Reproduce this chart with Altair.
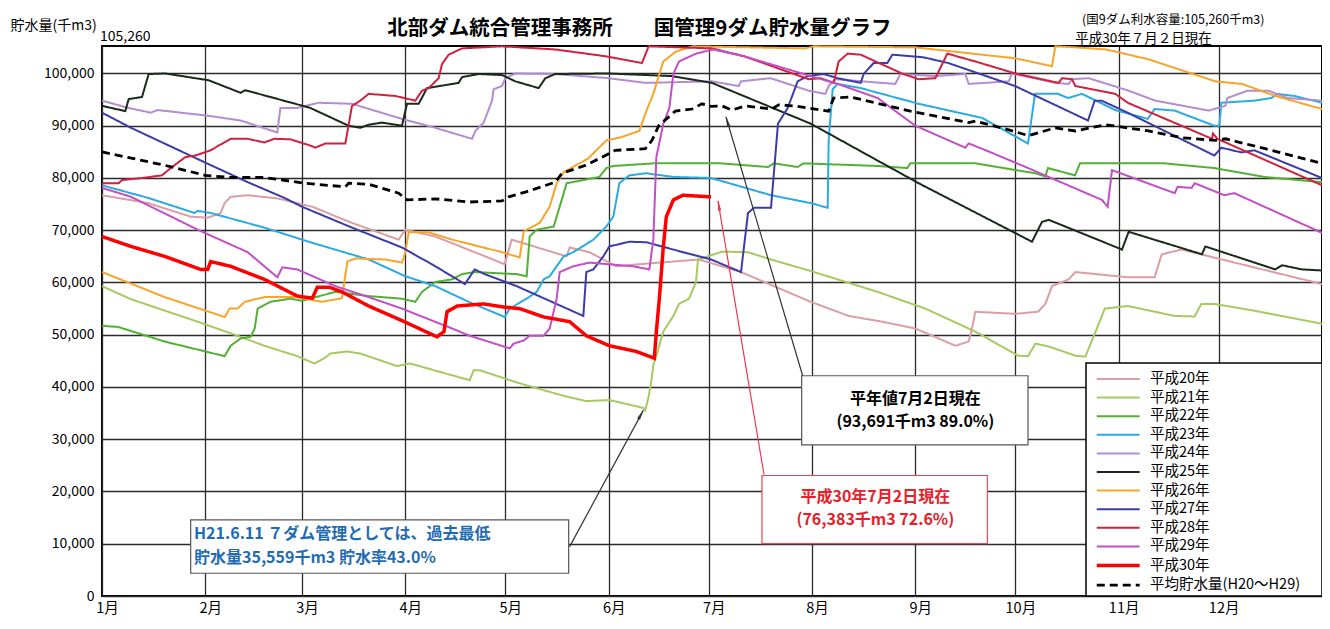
import altair as alt
import pandas as pd

FONT = "Noto Sans CJK JP"

SERIES_NAMES = ["平成20年", "平成21年", "平成22年", "平成23年", "平成24年", "平成25年",
                "平成26年", "平成27年", "平成28年", "平成29年", "平成30年", "平均貯水量(H20～H29)"]
SERIES_COLORS = ["#DB9EA6", "#A8C860", "#52B135", "#29ABE2", "#B48CD0", "#1A2A1A",
                 "#F7A52A", "#3C3CA8", "#D0213F", "#C24FC6", "#FF0000", "#000000"]
SERIES_WIDTHS = [2, 2, 2, 2, 2, 2, 2, 2, 2, 2, 3.5, 2.8]
SERIES_DASHES = [[1, 0]] * 11 + [[8, 5]]

MONTH_LABELS = ["1月", "2月", "3月", "4月", "5月", "6月", "7月", "8月", "9月", "10月", "11月", "12月"]
MONTH_START_DAYS = [0, 31, 60, 91, 121, 152, 182, 213, 244, 274, 305, 335]
DAYS_IN_YEAR = 366
Y_TICKS = [0, 10000, 20000, 30000, 40000, 50000, 60000, 70000, 80000, 90000, 100000]
Y_MAX = 105260

# ---- series (day of year, storage in 千m3) ----
h20_day = [0, 13.8, 26.6, 31.7, 35.6, 36.8, 38.6, 43.7, 52.6, 63.1, 75, 89, 91, 100, 120.8, 122.9, 139.4, 140.3,
           146.2, 154.3, 161.2, 179.1, 191.7, 212.6, 224, 234, 244, 256, 260, 261, 262, 274, 280.8, 283, 285, 290,
           292, 307.7, 315.8, 317.9, 323.9, 366]
h20_val = [76700, 75200, 72600, 72400, 73300, 75200, 76400, 76700, 76100, 74500, 71400, 68200, 70100, 68800, 63500,
           68200, 65000, 66700, 65800, 63100, 63500, 64400, 62000, 56300, 53600, 52500, 51200, 47900, 48700, 51200,
           54400, 54000, 54400, 55900, 59300, 60600, 62000, 61000, 61000, 65400, 66300, 59700]

h21_day = [0, 8.7, 28.7, 40.7, 48.7, 58.6, 63.7, 66.7, 68.5, 73.6, 77.5, 88.5, 92.4, 110.3, 111.5, 113.3, 125.3,
           138.5, 145.3, 152.2, 162.4, 163, 163.9, 164.8, 165.4, 166.3, 168.4, 171.4, 173.1, 176.1, 178.2, 178.8,
           186, 193.8, 200.7, 212.6, 232.7, 247, 262, 274.8, 277.8, 280, 283.8, 292, 295, 300, 300.8, 307.7, 321.8,
           327.8, 329.8, 333.7, 345.7, 366]
h21_val = [59300, 56800, 52500, 49800, 47900, 45900, 44500, 45500, 46400, 46800, 46400, 44000, 44500, 41300, 43200,
           43200, 40700, 38300, 37300, 37500, 36000, 35559, 37900, 41100, 44200, 46000, 50600, 53600, 55900, 56900,
           60100, 64400, 65900, 65800, 64400, 62200, 58200, 55000, 50600, 46000, 45900, 48300, 47800, 46000, 45800,
           53600, 55000, 55500, 53600, 53500, 55900, 55900, 54600, 52100]

h22_day = [0, 4.8, 18.8, 36.8, 38.6, 41.6, 44.6, 45.8, 46.7, 50.5, 56.5, 60, 70, 80, 90, 94, 96, 100, 105, 108,
           111.8, 124.4, 127.4, 128.3, 130.4, 135.5, 137.3, 139.4, 144.4, 149.2, 151.3, 153.4, 165.4, 185.7, 199.8,
           201.6, 208.7, 210.5, 232.7, 241.6, 242.5, 262, 280, 283, 283.8, 291.9, 293.4, 318.8, 333.7, 348.7, 366]
h22_val = [51700, 51500, 48700, 45900, 47900, 49300, 49600, 51200, 55000, 56300, 56900, 56500, 58200, 57400, 56900,
           56300, 58200, 60100, 60600, 61600, 62000, 61600, 61200, 68800, 70100, 70700, 74500, 79000, 79600, 80200,
           81900, 82300, 82800, 82800, 82100, 82800, 82100, 82800, 82300, 81900, 82800, 82800, 80900, 80300, 81900,
           80500, 82800, 82800, 81900, 80200, 79200]

h23_day = [0, 13.8, 27.8, 28.7, 32.6, 48.7, 62.5, 80, 91, 100, 110, 120.8, 122.3, 127.4, 130.4, 132.5, 134.3,
           138.5, 141.4, 147.4, 151.3, 153.4, 155.2, 158.2, 163.3, 171.4, 182.7, 200.7, 212.6, 217.7, 218, 219.2,
           220.7, 227.6, 245, 264, 277.8, 279.9, 286.8, 289.8, 294, 304, 313.7, 315.8, 321.8, 333.7, 335.2, 335.8,
           345.7, 350.8, 352.6, 357.7, 366]
h23_val = [78600, 76200, 73300, 73700, 73300, 70500, 67700, 64400, 61200, 59300, 56300, 53400, 55000, 56900, 58200,
           60600, 61200, 65000, 65800, 68200, 70700, 72600, 79000, 80500, 80900, 80200, 80000, 76700, 75200, 74300,
           87200, 97000, 98000, 97200, 94200, 91500, 86600, 96100, 96100, 95300, 96100, 93000, 91300, 93200, 92900,
           90000, 90000, 94400, 94800, 95300, 96100, 95700, 94400]

h24_day = [0, 8, 14.6, 16.7, 32, 41.6, 52.6, 53.5, 58.6, 65, 75, 90, 100, 111, 112, 114.5, 117, 117.5, 120, 121,
           124, 136, 152, 163, 183, 191, 191.7, 200.6, 212, 217, 218, 220, 238, 239.5, 250, 259, 260, 272, 273, 286,
           290, 291, 296, 308, 316, 332, 337, 337.6, 343.6, 350, 355.6, 366]
h24_val = [94800, 93400, 92500, 93000, 91900, 91000, 88700, 93400, 93400, 94400, 94200, 91300, 89600, 87500, 89000,
           90600, 94800, 97000, 97600, 99100, 100000, 99900, 99100, 98200, 98500, 97600, 98500, 99100, 96700, 96100,
           97600, 98900, 98000, 99900, 99500, 99900, 98000, 98500, 100000, 98200, 98000, 98900, 99100, 96700, 94800,
           92900, 93800, 95300, 96700, 96700, 95300, 94800]

h25_day = [0, 7, 8, 12, 14, 19, 32, 41.6, 43, 58, 62.5, 74, 77.5, 80, 84, 90, 91.5, 95, 97.5, 107, 108, 113, 120,
           124, 131, 133, 136, 152, 171, 183, 212.6, 245, 279, 282, 284, 306, 308, 330, 331, 352, 354, 360, 366]
h25_val = [93800, 92800, 95100, 95500, 99900, 100000, 98700, 96300, 96800, 94200, 93400, 90000, 89600, 90200, 90600,
           90000, 94200, 94200, 97200, 98200, 99300, 99900, 99700, 98500, 97200, 99100, 99900, 100000, 99500, 98200,
           90400, 79000, 67800, 71600, 72000, 66300, 69700, 65400, 66900, 62500, 63300, 62500, 62300]

h26_day = [0, 18.8, 36.8, 38.3, 40.7, 42.8, 48.7, 58.6, 66, 72, 73.6, 76, 85, 90, 91, 92, 98, 105, 120, 125.3, 126.5,
           127.4, 131.3, 134.3, 136.4, 138.5, 146, 148.3, 151.3, 155.2, 161.2, 163.3, 165.4, 167.2, 168.4, 172.2,
           177.3, 211, 213.5, 244, 274, 285, 286, 292, 301, 304, 314, 334, 342, 352, 366]
h26_val = [62000, 57200, 53400, 55000, 55000, 56300, 57200, 57200, 56300, 57000, 64000, 64600, 64400, 63800, 65800,
           69600, 69600, 68200, 65800, 64800, 69700, 70100, 71400, 74500, 79000, 81100, 83800, 85300, 87200, 87700,
           89000, 92800, 96100, 99900, 102300, 104200, 105200, 104800, 105200, 105000, 102900, 101400, 105200,
           105000, 104600, 104200, 102700, 98500, 98000, 95700, 93200]

h27_day = [0, 8.7, 30.8, 43.7, 54.7, 60, 75, 90, 100, 108.9, 111.8, 114.8, 124.4, 144.4, 145.3, 147.4, 150.4, 152.2,
           158.2, 163.3, 171.4, 182.7, 191.7, 193.8, 195.6, 200.7, 202.8, 205.7, 208.7, 211.7, 216.5, 220.7, 227.6,
           228.5, 231.5, 235.6, 237.1, 246.4, 253.9, 273.9, 295.8, 297.8, 299.9, 307.7, 333.7, 335.8, 341.8, 345.7, 366]
h27_val = [92500, 89600, 83000, 79200, 76200, 74500, 70500, 66700, 63100, 59700, 62500, 61600, 59300, 53600, 62000,
           62500, 65000, 66900, 67800, 67700, 66300, 64400, 62000, 73300, 74300, 74300, 90400, 93400, 98500, 99500,
           99900, 99100, 98200, 99900, 102000, 102000, 103600, 103100, 102000, 97600, 91000, 94800, 94800, 92500,
           84300, 85800, 84900, 85300, 80000]

h28_day = [0, 5, 6, 12, 18, 20.6, 25, 28, 32.6, 35, 38.6, 43.7, 48.7, 51.7, 56.5, 62.5, 64, 67, 73, 75, 77.5, 80,
           88, 94, 96, 98, 101, 102, 104, 108, 120, 136, 151, 162, 164, 183, 192.6, 212, 215.6, 219.5, 221, 223.7,
           227.6, 240, 245, 250, 253.6, 262, 274, 287, 288, 291, 292, 304, 307.7, 333, 333.3, 334.6, 366]
h28_val = [79000, 79000, 79600, 80000, 80500, 81900, 84000, 84300, 85300, 86200, 87500, 87500, 86800, 87500, 87400,
           86200, 85800, 86600, 86600, 93800, 94800, 96100, 95700, 94800, 96700, 97200, 99100, 101800, 103600,
           104800, 105200, 104600, 103300, 102000, 105200, 104800, 103300, 98900, 99100, 98200, 102300, 103800,
           103600, 100000, 98900, 99100, 103800, 102300, 100000, 98200, 99100, 98900, 97600, 96100, 94400, 87500,
           88500, 87500, 78600]

h29_day = [0, 8.7, 28.7, 43.7, 52.6, 54.1, 58.6, 70, 80, 90, 105, 110.3, 122.3, 123.5, 126.5, 128.3, 132.5, 134.3,
           136.4, 137.3, 141.4, 146.2, 159.4, 164.2, 165.4, 166.3, 168.4, 170.2, 171.4, 173.1, 178.2, 183.3, 192.6,
           212.6, 220.7, 232.7, 244, 259, 260, 264, 276, 300, 301.7, 303, 321.8, 322.7, 326.9, 327.8, 336.7, 339.7, 366]
h29_val = [78100, 76400, 70100, 65800, 61000, 62900, 62500, 59300, 57200, 55000, 51200, 49800, 47400, 48300, 48900,
           49800, 49800, 51200, 56900, 62000, 63100, 63800, 63100, 62500, 68200, 84000, 90400, 93400, 99900, 102300,
           103800, 104600, 103300, 99500, 98000, 95300, 90000, 85800, 86600, 85600, 82400, 75800, 74500, 81500,
           77100, 78300, 78100, 79000, 76700, 77100, 69500]

h30_day = [0, 8.7, 18.8, 29.6, 31.7, 32.6, 38.6, 48.7, 58.6, 63.1, 64.6, 68.2, 72, 80, 90, 100.5, 102.6, 103.5,
           106.5, 114.5, 120.5, 125.3, 132.5, 140.3, 145.3, 152.2, 160.3, 165.7, 166.3, 167.2, 168.4, 169.3, 171.4,
           174.3, 182.7]
h30_val = [68800, 66900, 65000, 62500, 62500, 64000, 63100, 60600, 57400, 57000, 59100, 59100, 58200, 55500, 52700,
           49600, 50600, 54400, 55500, 55900, 55300, 55000, 53400, 52500, 49800, 47900, 46800, 45500, 50600, 56900,
           66900, 72600, 75800, 76700, 76383]

avg_day = [0, 19, 31, 38.6, 48.7, 60.7, 73, 74, 80, 89, 91.5, 100, 110, 120, 122, 127, 136, 138, 145, 151, 154, 163,
           165, 167, 172, 177, 180, 182.7, 186, 189, 193, 201, 203, 207.5, 218, 219.5, 224.6, 242.5, 260, 262, 271,
           278, 286, 292, 301, 314, 324, 334, 337, 349, 366]
avg_val = [85000, 82400, 80500, 80100, 80100, 79000, 78300, 79000, 78800, 77100, 75800, 76000, 75400, 75600, 76400,
           77300, 79200, 80900, 82400, 84300, 85300, 85600, 87200, 90000, 92800, 93200, 94200, 93691, 93800, 93000,
           93800, 93200, 94000, 93800, 92800, 95300, 95500, 92800, 90600, 90900, 89400, 88100, 89600, 89000, 90200,
           89000, 87700, 87200, 87500, 85600, 82800]

SERIES_DAYS = [h20_day, h21_day, h22_day, h23_day, h24_day, h25_day, h26_day, h27_day, h28_day, h29_day, h30_day, avg_day]
SERIES_VALS = [h20_val, h21_val, h22_val, h23_val, h24_val, h25_val, h26_val, h27_val, h28_val, h29_val, h30_val, avg_val]

rows = []
for name, days, vals in zip(SERIES_NAMES, SERIES_DAYS, SERIES_VALS):
    for i, (d, v) in enumerate(zip(days, vals)):
        rows.append({"series": name, "day": d, "value": v, "idx": i})
lines_df = pd.DataFrame(rows)

x_scale = alt.Scale(domain=[0, DAYS_IN_YEAR], nice=False, zero=False)
y_scale = alt.Scale(domain=[0, Y_MAX], nice=False, zero=True)

label_expr = ("[" + ",".join(f"'{m}'" for m in MONTH_LABELS) + "][indexof(["
              + ",".join(str(d) for d in MONTH_START_DAYS) + "], datum.value)]")

GRID = "#2a2a2a"
x_axis = alt.Axis(values=MONTH_START_DAYS, labelExpr=label_expr, title=None, grid=True, gridColor=GRID,
                  gridWidth=1.3, gridOpacity=1, ticks=False, domain=False, labelFont=FONT, labelFontSize=14.5,
                  labelColor="#000", labelPadding=5, labelOffset=5, labelFlush=False, labelAlign="center")
y_axis = alt.Axis(values=Y_TICKS, labelExpr="format(datum.value, ',')", title="貯水量(千m3)", titleAngle=0,
                  titleAlign="left", titleBaseline="middle", titleX=-92, titleY=-21, titleFont=FONT,
                  titleFontSize=14, titleFontWeight="normal", titleColor="#000", grid=True, gridColor=GRID,
                  gridWidth=1.3, gridOpacity=1, ticks=False, domain=False, labelFont=FONT, labelFontSize=14,
                  labelColor="#000", labelPadding=8)

H30 = SERIES_NAMES[10]
AVG = SERIES_NAMES[11]
legend = alt.Legend(
    title=None, orient="none", legendX=993, legendY=322, direction="vertical",
    symbolType="M-1,0H3.4", symbolSize=380, symbolOpacity=1,
    rowPadding=0.6, padding=0, labelOffset=32, labelFont=FONT, labelFontSize=14.5, labelColor="#000",
    labelLimit=300,
)
color_enc = alt.Color("series:N", scale=alt.Scale(domain=SERIES_NAMES, range=SERIES_COLORS), legend=legend)
dash_enc = alt.StrokeDash("series:N", scale=alt.Scale(domain=SERIES_NAMES, range=SERIES_DASHES), legend=legend)
width_enc = alt.StrokeWidth("series:N", scale=alt.Scale(type="ordinal", domain=SERIES_NAMES, range=SERIES_WIDTHS),
                            legend=legend)


def X(field):
    return alt.X(f"{field}:Q", scale=x_scale, axis=x_axis)


def Y(field):
    return alt.Y(f"{field}:Q", scale=y_scale, axis=y_axis)


base = alt.Chart(lines_df)


def line_layer(names):
    return base.transform_filter(alt.FieldOneOfPredicate(field="series", oneOf=names)).mark_line().encode(
        x=X("day"), y=Y("value"),
        color=color_enc, strokeDash=dash_enc, strokeWidth=width_enc, order=alt.Order("idx:Q"))


def rect_layer(x, x2, y, y2, stroke, width=1.2):
    df = pd.DataFrame({"x": [x], "x2": [x2], "y": [y], "y2": [y2]})
    return alt.Chart(df).mark_rect(fill="white", stroke=stroke, strokeWidth=width).encode(
        x=X("x"), x2="x2:Q", y=Y("y"), y2="y2:Q")


def arrow_layers(x, y, x2, y2, hx, hy, angle, color):
    df = pd.DataFrame({"x": [x], "y": [y], "x2": [x2], "y2": [y2]})
    rule = alt.Chart(df).mark_rule(color=color, strokeWidth=1.2).encode(
        x=X("x"), x2="x2:Q", y=Y("y"), y2="y2:Q")
    hdf = pd.DataFrame({"x": [hx], "y": [hy], "a": [angle]})
    head = alt.Chart(hdf).mark_point(shape="wedge", filled=True, size=170, color=color, opacity=1).encode(
        x=X("x"), y=Y("y"), angle=alt.Angle("a:Q", scale=None))
    return [rule, head]


def text_layer(texts, days, values, color="#000", size=14, weight="normal", align="left", dx=0, dy=0):
    df = pd.DataFrame({"t": texts, "x": days, "y": values})
    return alt.Chart(df).mark_text(color=color, fontSize=size, fontWeight=weight, font=FONT, align=align,
                                   baseline="middle", dx=dx, dy=dy).encode(
        x=X("x"), y=Y("y"), text="t:N")


layers = [line_layer(SERIES_NAMES[:10]), line_layer([AVG]), line_layer([H30])]
# legend frame
layers.append(rect_layer(295.2, DAYS_IN_YEAR, 0, 44600, "#000", 1.5))
# annotation boxes
layers.append(rect_layer(209.9, 277.8, 42150, 28920, "#555555"))
layers.append(rect_layer(198.0, 265.6, 23060, 10020, "#E04A5A"))
layers.append(rect_layer(26.6, 140.0, 14550, 4350, "#555555"))
# arrows
layers += arrow_layers(210.2, 42150, 187.2, 91670, 187.7, 90570, 344, "#333333")
layers += arrow_layers(198.6, 23250, 184.8, 75600, 185.1, 74480, 351, "#F0364E")
layers += arrow_layers(140.3, 9450, 162.4, 35530, 161.5, 34530, 28, "#333333")
# texts
layers.append(text_layer(["北部ダム統合管理事務所　　国管理9ダム貯水量グラフ"], [161.2], [108500],
                         size=20.5, weight="bold", align="center"))
layers.append(text_layer(["(国9ダム利水容量:105,260千m3)"], [294], [110240], size=12.5))
layers.append(text_layer(["平成30年７月２日現在"], [292], [106600], size=13.5))
layers.append(text_layer(["105,260"], [0], [Y_MAX], size=14, dx=-2, dy=-9))
layers.append(text_layer(["平年値7月2日現在", "(93,691千m3 89.0%)"], [244, 244], [37700, 33300],
                         size=16, weight="bold", align="center"))
layers.append(text_layer(["平成30年7月2日現在", "(76,383千m3 72.6%)"], [232, 232], [19000, 14500],
                         color="#E8202A", size=16, weight="bold", align="center"))
layers.append(text_layer(["H21.6.11 ７ダム管理としては、過去最低", "貯水量35,559千m3 貯水率43.0%"],
                         [27.6, 27.6], [11800, 7300], color="#1F6CB4", size=16, weight="bold"))

chart = alt.layer(*layers).properties(
    width=1220, height=550,
    padding={"left": 94, "top": 38, "right": 0, "bottom": 20},
    autosize=alt.AutoSizeParams(type="none"),
    background="white",
).configure_view(stroke="#000", strokeWidth=2)

chart.save("out.html", embed_options={"renderer": "svg", "actions": False})
